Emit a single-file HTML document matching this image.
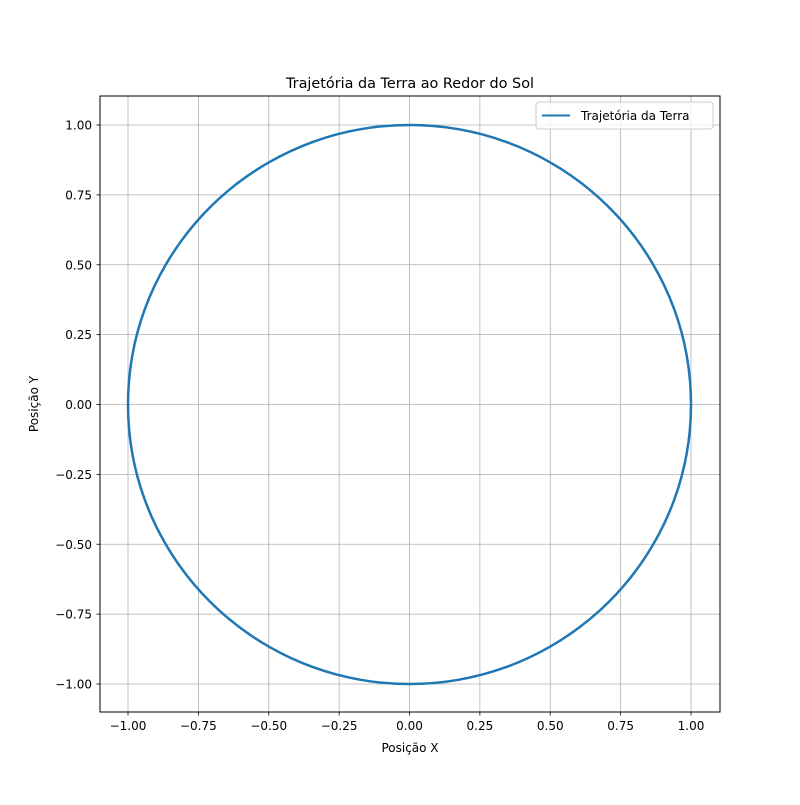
<!DOCTYPE html>
<html><head><meta charset="utf-8">
<style>
body{margin:0;background:#fff;}
svg text{font-family:"DejaVu Sans","Liberation Sans",sans-serif;fill:#000;}
</style></head>
<body>
<svg id="chart" width="800" height="800" xmlns="http://www.w3.org/2000/svg">
<rect width="800" height="800" fill="#fff"/>
<g id="grid"></g>
<g id="series"></g>
<rect x="100" y="96" width="620" height="616" fill="none" stroke="#000" stroke-width="1"/>
<g id="ticks"></g>
<text x="410" y="88" font-size="14.4" text-anchor="middle">Trajetória da Terra ao Redor do Sol</text>
<text x="410" y="752" font-size="12" text-anchor="middle">Posição X</text>
<text x="38" y="404" font-size="12" text-anchor="middle" transform="rotate(-90 38 404)">Posição Y</text>
<g>
<rect x="536" y="102" width="177" height="27" rx="3" fill="#fff" fill-opacity="0.8" stroke="#ccc"/>
<line x1="542" y1="115.5" x2="570" y2="115.5" stroke="#1f77b4" stroke-width="2"/>
<text x="581" y="120" font-size="12">Trajetória da Terra</text>
</g>
</svg>
<script>
const xTicks=[-1,-0.75,-0.5,-0.25,0,0.25,0.5,0.75,1];
const yTicks=[-1,-0.75,-0.5,-0.25,0,0.25,0.5,0.75,1];
const orbitX=[1,.985,.940,.866,.766,.643,.5,.342,.174,0,-.174,-.342,-.5,-.643,-.766,-.866,-.940,-.985,-1,-.985,-.940,-.866,-.766,-.643,-.5,-.342,-.174,0,.174,.342,.5,.643,.766,.866,.940,.985,1];
const orbitY=[0,.174,.342,.5,.643,.766,.866,.940,.985,1,.985,.940,.866,.766,.643,.5,.342,.174,0,-.174,-.342,-.5,-.643,-.766,-.866,-.940,-.985,-1,-.985,-.940,-.866,-.766,-.643,-.5,-.342,-.174,0];
const NS='http://www.w3.org/2000/svg';
const sx=v=>409.5+v*281.5, sy=v=>404.5-v*279.5;
const grid=document.getElementById('grid'), ticks=document.getElementById('ticks'), ser=document.getElementById('series');
function mk(tag,attrs,parent){const e=document.createElementNS(NS,tag);for(const k in attrs)e.setAttribute(k,attrs[k]);parent.appendChild(e);return e;}
xTicks.forEach(v=>{
  const x=sx(v);
  const g=mk('line',{x1:x,x2:x,y1:96,y2:712,stroke:'#b0b0b0','stroke-width':0.8},grid);
  
  
  const t=mk('line',{x1:x,x2:x,y1:712,y2:715.5,stroke:'#000','stroke-width':0.8},ticks);
  
  
  const l=mk('text',{x:x,y:730,'font-size':12,'text-anchor':'middle'},ticks);
  l.textContent=v.toFixed(2).replace('-','\u2212');
  
  
});
yTicks.forEach(v=>{
  const y=sy(v);
  const g=mk('line',{x1:100,x2:720,y1:y,y2:y,stroke:'#b0b0b0','stroke-width':0.8},grid);
  
  
  const t=mk('line',{x1:96.5,x2:100,y1:y,y2:y,stroke:'#000','stroke-width':0.8},ticks);
  
  
  const l=mk('text',{x:92,y:y+4.5,'font-size':12,'text-anchor':'end'},ticks);
  l.textContent=v.toFixed(2).replace('-','\u2212');
  
  
});
// smooth closed Catmull-Rom through data points
const P=orbitX.slice(0,-1).map((x,i)=>[sx(x),sy(orbitY[i])]);
const n=P.length;
let d='M'+P[0][0]+','+P[0][1];
for(let i=0;i<n;i++){
  const p0=P[(i-1+n)%n],p1=P[i],p2=P[(i+1)%n],p3=P[(i+2)%n];
  const c1=[p1[0]+(p2[0]-p0[0])/6,p1[1]+(p2[1]-p0[1])/6];
  const c2=[p2[0]-(p3[0]-p1[0])/6,p2[1]-(p3[1]-p1[1])/6];
  d+=' C'+c1[0]+','+c1[1]+' '+c2[0]+','+c2[1]+' '+p2[0]+','+p2[1];
}
const p=mk('path',{d:d+'Z',fill:'none',stroke:'#1f77b4','stroke-width':2.5,'stroke-linejoin':'round'},ser);


</script>
</body></html>
